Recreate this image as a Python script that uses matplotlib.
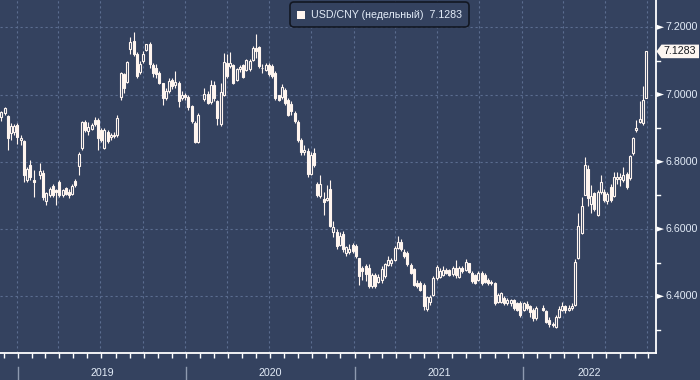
import matplotlib
matplotlib.use("Agg")
import matplotlib.pyplot as plt
import matplotlib.dates as mdates
from matplotlib.patches import Rectangle, Polygon, FancyBboxPatch
from matplotlib.lines import Line2D
from matplotlib.transforms import IdentityTransform
import pandas as pd

plt.rcParams['font.family'] = ['Liberation Sans', 'DejaVu Sans']

# ---------------- data ----------------
series_label = "USD/CNY (недельный)"
last_price_text = "7.1283"
year_labels = ["2019", "2020", "2021", "2022"]
y_major = [6.4, 6.6, 6.8, 7.0, 7.2]
y_minor = [6.3, 6.5, 6.7, 6.9, 7.1]

# weekly bars (Fridays); weeks with no onshore trading are absent
first_week = "2018-11-23"
last_week = "2022-09-23"
skip_weeks = ["2019-02-08", "2020-01-31", "2022-02-04"]

open_ = [
    # 2018
    6.934, 6.944, 6.935, 6.887, 6.888, 6.910,
    # 2019
    6.864, 6.861, 6.746, 6.790, 6.746, 6.760, 6.768, 6.683, 6.700, 6.729,
    6.716, 6.739, 6.700, 6.721, 6.711, 6.703, 6.743, 6.788, 6.840, 6.919,
    6.891, 6.899, 6.925, 6.925, 6.895, 6.842, 6.890, 6.874, 6.877, 6.879,
    6.993, 7.060, 7.038, 7.135, 7.160, 7.120, 7.066, 7.100, 7.132, 7.150,
    7.087, 7.080, 7.065, 7.033, 6.990, 7.010, 7.043, 7.028, 7.035, 6.990,
    6.998,
    # 2020
    6.993, 6.965, 6.914, 6.860, 6.986, 7.003, 6.978, 7.028, 6.980, 6.911,
    6.998, 7.095, 7.085, 7.087, 7.043, 7.075, 7.087, 7.072, 7.075, 7.102,
    7.139, 7.142, 7.080, 7.072, 7.089, 7.085, 7.063, 6.998, 6.993, 7.013,
    6.985, 6.972, 6.944, 6.919, 6.865, 6.828, 6.832, 6.765, 6.825, 6.735,
    6.698, 6.690, 6.686, 6.720, 6.592, 6.590, 6.552, 6.585, 6.528, 6.533,
    6.552,
    # 2021
    6.550, 6.513, 6.485, 6.490, 6.485, 6.430, 6.463, 6.443, 6.448, 6.460,
    6.493, 6.498, 6.508, 6.543, 6.562, 6.533, 6.530, 6.493, 6.480, 6.440,
    6.440, 6.435, 6.362, 6.382, 6.404, 6.455, 6.458, 6.463, 6.478, 6.478,
    6.465, 6.483, 6.458, 6.483, 6.478, 6.498, 6.470, 6.463, 6.448, 6.470,
    6.463, 6.450, 6.443, 6.439, 6.384, 6.384, 6.394, 6.379, 6.379, 6.389,
    6.379, 6.381, 6.359,
    # 2022
    6.378, 6.372, 6.360, 6.335, 6.365, 6.355, 6.330, 6.315, 6.310, 6.340,
    6.360, 6.372, 6.360, 6.365, 6.374, 6.513, 6.589, 6.701, 6.780, 6.676,
    6.706, 6.642, 6.711, 6.711, 6.684, 6.726, 6.698, 6.748, 6.748, 6.745,
    6.765, 6.751, 6.825, 6.895, 6.919, 6.916, 6.991,
]

high = [
    # 2018
    6.950, 6.962, 6.940, 6.915, 6.912, 6.915,
    # 2019
    6.880, 6.865, 6.785, 6.805, 6.775, 6.795, 6.775, 6.710, 6.725, 6.735,
    6.720, 6.745, 6.720, 6.725, 6.720, 6.735, 6.748, 6.830, 6.920, 6.925,
    6.918, 6.915, 6.932, 6.930, 6.900, 6.900, 6.895, 6.885, 6.888, 6.940,
    7.068, 7.065, 7.100, 7.170, 7.186, 7.125, 7.100, 7.130, 7.150, 7.155,
    7.095, 7.090, 7.070, 7.035, 7.020, 7.050, 7.050, 7.070, 7.040, 7.010,
    7.005,
    # 2020
    6.998, 6.970, 6.920, 6.945, 7.020, 7.010, 7.043, 7.040, 6.985, 7.035,
    7.123, 7.120, 7.127, 7.090, 7.080, 7.087, 7.090, 7.105, 7.105, 7.145,
    7.180, 7.145, 7.092, 7.095, 7.095, 7.090, 7.070, 7.000, 7.030, 7.020,
    6.990, 6.980, 6.950, 6.925, 6.870, 6.850, 6.840, 6.830, 6.840, 6.740,
    6.760, 6.710, 6.730, 6.746, 6.625, 6.600, 6.590, 6.595, 6.550, 6.555,
    6.560,
    # 2021
    6.555, 6.515, 6.490, 6.495, 6.495, 6.470, 6.470, 6.465, 6.490, 6.500,
    6.520, 6.515, 6.550, 6.579, 6.570, 6.540, 6.535, 6.500, 6.485, 6.450,
    6.445, 6.440, 6.402, 6.405, 6.460, 6.493, 6.485, 6.490, 6.485, 6.482,
    6.490, 6.508, 6.490, 6.490, 6.510, 6.500, 6.475, 6.465, 6.475, 6.475,
    6.468, 6.455, 6.450, 6.442, 6.410, 6.412, 6.400, 6.395, 6.392, 6.393,
    6.383, 6.385, 6.382,
    # 2022
    6.385, 6.375, 6.365, 6.372, 6.375, 6.360, 6.340, 6.325, 6.345, 6.372,
    6.384, 6.375, 6.375, 6.380, 6.510, 6.648, 6.694, 6.815, 6.790, 6.730,
    6.710, 6.715, 6.760, 6.720, 6.710, 6.735, 6.770, 6.770, 6.767, 6.785,
    6.770, 6.820, 6.875, 6.924, 6.981, 7.025, 7.130,
]

low = [
    # 2018
    6.921, 6.940, 6.835, 6.865, 6.880, 6.852,
    # 2019
    6.850, 6.741, 6.740, 6.745, 6.696, 6.750, 6.686, 6.671, 6.695, 6.695,
    6.673, 6.695, 6.695, 6.700, 6.692, 6.700, 6.725, 6.760, 6.835, 6.890,
    6.881, 6.895, 6.905, 6.835, 6.860, 6.838, 6.855, 6.865, 6.870, 6.875,
    6.985, 7.005, 7.035, 7.120, 7.115, 7.048, 7.060, 7.095, 7.130, 7.080,
    7.053, 7.050, 7.030, 6.968, 6.985, 7.005, 7.015, 7.020, 6.963, 6.985,
    6.985,
    # 2020
    6.955, 6.915, 6.855, 6.855, 6.980, 6.972, 6.973, 6.980, 6.910, 6.905,
    6.995, 7.050, 7.079, 7.030, 7.040, 7.067, 7.050, 7.070, 7.070, 7.100,
    7.108, 7.080, 7.063, 7.070, 7.055, 7.050, 6.985, 6.980, 6.988, 6.970,
    6.935, 6.940, 6.915, 6.860, 6.820, 6.820, 6.755, 6.760, 6.785, 6.695,
    6.693, 6.641, 6.683, 6.605, 6.575, 6.540, 6.550, 6.533, 6.520, 6.525,
    6.530,
    # 2021
    6.515, 6.434, 6.450, 6.445, 6.425, 6.425, 6.425, 6.440, 6.440, 6.455,
    6.490, 6.490, 6.505, 6.540, 6.535, 6.515, 6.490, 6.465, 6.430, 6.425,
    6.415, 6.360, 6.357, 6.375, 6.400, 6.450, 6.455, 6.460, 6.465, 6.460,
    6.460, 6.455, 6.455, 6.470, 6.475, 6.470, 6.440, 6.437, 6.445, 6.435,
    6.440, 6.435, 6.435, 6.375, 6.380, 6.380, 6.375, 6.375, 6.370, 6.360,
    6.355, 6.340, 6.355,
    # 2022
    6.360, 6.340, 6.328, 6.330, 6.355, 6.320, 6.310, 6.310, 6.305, 6.335,
    6.355, 6.350, 6.355, 6.360, 6.370, 6.510, 6.585, 6.700, 6.668, 6.647,
    6.655, 6.640, 6.705, 6.680, 6.675, 6.680, 6.695, 6.734, 6.728, 6.740,
    6.720, 6.745, 6.820, 6.889, 6.915, 6.910, 6.990,
]

close = [
    # 2018
    6.947, 6.959, 6.870, 6.907, 6.905, 6.874,
    # 2019
    6.871, 6.760, 6.778, 6.755, 6.741, 6.772, 6.696, 6.707, 6.720, 6.700,
    6.711, 6.700, 6.716, 6.703, 6.700, 6.729, 6.730, 6.822, 6.917, 6.894,
    6.904, 6.909, 6.912, 6.870, 6.865, 6.895, 6.862, 6.881, 6.881, 6.930,
    7.063, 7.020, 7.097, 7.157, 7.120, 7.055, 7.092, 7.122, 7.149, 7.090,
    7.065, 7.060, 7.035, 6.990, 7.010, 7.040, 7.025, 7.038, 6.980, 7.000,
    6.993,
    # 2020
    6.963, 6.920, 6.860, 6.940, 7.003, 6.976, 7.028, 6.990, 6.930, 7.008,
    7.097, 7.055, 7.095, 7.035, 7.077, 7.082, 7.053, 7.102, 7.100, 7.139,
    7.130, 7.085, 7.078, 7.089, 7.060, 7.055, 6.990, 6.985, 7.023, 6.975,
    6.940, 6.950, 6.920, 6.865, 6.830, 6.835, 6.765, 6.820, 6.790, 6.700,
    6.733, 6.680, 6.692, 6.610, 6.605, 6.550, 6.579, 6.540, 6.547, 6.540,
    6.535,
    # 2021
    6.520, 6.460, 6.475, 6.465, 6.430, 6.463, 6.430, 6.458, 6.480, 6.496,
    6.508, 6.508, 6.543, 6.562, 6.540, 6.520, 6.495, 6.470, 6.435, 6.430,
    6.420, 6.370, 6.398, 6.398, 6.454, 6.488, 6.476, 6.478, 6.468, 6.463,
    6.485, 6.463, 6.483, 6.475, 6.503, 6.473, 6.445, 6.440, 6.468, 6.439,
    6.443, 6.440, 6.439, 6.379, 6.404, 6.409, 6.379, 6.389, 6.389, 6.364,
    6.359, 6.344, 6.379,
    # 2022
    6.365, 6.352, 6.335, 6.365, 6.360, 6.325, 6.318, 6.318, 6.340, 6.362,
    6.370, 6.360, 6.366, 6.372, 6.503, 6.609, 6.668, 6.790, 6.691, 6.698,
    6.660, 6.711, 6.740, 6.686, 6.704, 6.686, 6.755, 6.754, 6.755, 6.760,
    6.726, 6.817, 6.872, 6.900, 6.926, 6.985, 7.1283,
]

weeks = pd.date_range(first_week, last_week, freq="W-FRI")
weeks = weeks[~weeks.isin(pd.to_datetime(skip_weeks))]
assert len(weeks) == len(open_) == len(high) == len(low) == len(close)

# ---------------- style ----------------
W, H = 700, 380
BG = "#34425f"
CANDLE = "#fff5ef"
GRID = "#5b6d90"
AXIS = "#ffffff"
TXT = "#e2ebf7"
SEP = "#8e9ab0"
FS = 7.7

fig = plt.figure(figsize=(W / 100, H / 100), dpi=100, facecolor=BG)
AX_R = 655.7        # right edge of plot (px)
AX_B = 353.0        # bottom edge of plot (px from top)
ax = fig.add_axes([0, (H - AX_B) / H, AX_R / W, AX_B / H])
ax.set_facecolor(BG)

PXD = 504.7 / 1096.0            # pixels per day
x2019 = mdates.date2num(pd.Timestamp("2019-01-01"))
xmin = x2019 - 19.3 / PXD
xmax = xmin + AX_R / PXD
ax.set_xlim(xmin, xmax)
ax.set_ylim(6.2315, 7.2811)

for s in ax.spines.values():
    s.set_visible(False)

# grid
ax.hlines(y_major, xmin, xmax, colors=GRID, lw=0.8, linestyles=(0, (2, 2.5)), zorder=1)
qpos = mdates.date2num(pd.date_range("2019-01-01", "2022-10-01", freq="QS") - pd.Timedelta(days=5))
ax.vlines(qpos, 6.2315, 7.2811, colors=GRID, lw=0.8, linestyles=(0, (2, 2.5)), zorder=1)

# candles
xs = mdates.date2num(weeks)
bw = 2.0 / PXD
ax.vlines(xs, low, high, colors=CANDLE, lw=0.8, zorder=3)
for x, o, h, l, c in zip(xs, open_, high, low, close):
    up = c >= o
    b = min(o, c)
    ht = max(abs(c - o), 0.0015)
    ax.add_patch(Rectangle((x - bw / 2, b), bw, ht,
                           facecolor=BG if up else CANDLE,
                           edgecolor=CANDLE, lw=0.8, zorder=4))

# axis lines
ax.plot([1, 1], [0, 1], transform=ax.transAxes, color=AXIS, lw=1.3, clip_on=False, zorder=6)
ax.plot([0, 1], [0, 0], transform=ax.transAxes, color=AXIS, lw=1.3, clip_on=False, zorder=6)

# month ticks
mpos = mdates.date2num(pd.date_range("2018-12-01", "2022-10-01", freq="MS") - pd.Timedelta(days=3))
ax.set_xticks(mpos)
ax.tick_params(axis='x', direction='out', length=3.5, width=1.0, color=AXIS, labelbottom=False)
ax.set_yticks([])

fig.canvas.draw()
ident = IdentityTransform()

def ydisp(v):
    return ax.transData.transform((xmax, v))[1]

def xdisp(d):
    return ax.transData.transform((mdates.date2num(pd.Timestamp(d)), 6.5))[0]

# right axis labels with flag markers
for v in y_major:
    yd = ydisp(v)
    fig.add_artist(Polygon([(656.5, yd + 2.6), (656.5, yd - 2.6), (664, yd)], closed=True,
                           transform=ident, facecolor=AXIS, edgecolor='none'))
    fig.text(665.5 / W, yd / H, f"{v:.4f}", ha='left', va='center', color=TXT, fontsize=FS)
for v in y_minor:
    yd = ydisp(v)
    fig.add_artist(Line2D([656, 660], [yd, yd], transform=ident, color=AXIS, lw=1.0))

# last price tag
last_v = close[-1]
yd = ydisp(last_v)
fig.add_artist(Polygon([(656.5, yd), (661.5, yd + 6.8), (699, yd + 6.8), (699, yd - 6.8), (661.5, yd - 6.8)],
                       closed=True, transform=ident, facecolor="#fdf6f1", edgecolor='none', zorder=10))
fig.text(663 / W, yd / H, last_price_text, ha='left', va='center', color="#15181f", fontsize=FS, zorder=11)

# year separators and labels
year_starts = [f"{y}-01-01" for y in year_labels]
seps = [xdisp(d) - 1.0 for d in year_starts]
for sx in seps:
    fig.add_artist(Line2D([sx, sx], [0, 13.5], transform=ident, color=SEP, lw=1.0))
bounds = seps + [AX_R]
for i, lab in enumerate(year_labels):
    cx = (bounds[i] + bounds[i + 1]) / 2
    fig.text(cx / W, 7.5 / H, lab, ha='center', va='center', color=TXT, fontsize=FS)

# legend box
fig.add_artist(FancyBboxPatch((290, H - 27), 179, 25, boxstyle="round,pad=0,rounding_size=4",
                              transform=ident, facecolor=BG, edgecolor="#121722", lw=1.2))
fig.add_artist(Rectangle((297, H - 18.5), 8, 8, transform=ident, facecolor=CANDLE, edgecolor='none'))
fig.text(311 / W, (H - 14.5) / H, f"{series_label}  {last_price_text}", ha='left', va='center',
         color=TXT, fontsize=FS)

fig.savefig("out.png", dpi=100, facecolor=BG)
